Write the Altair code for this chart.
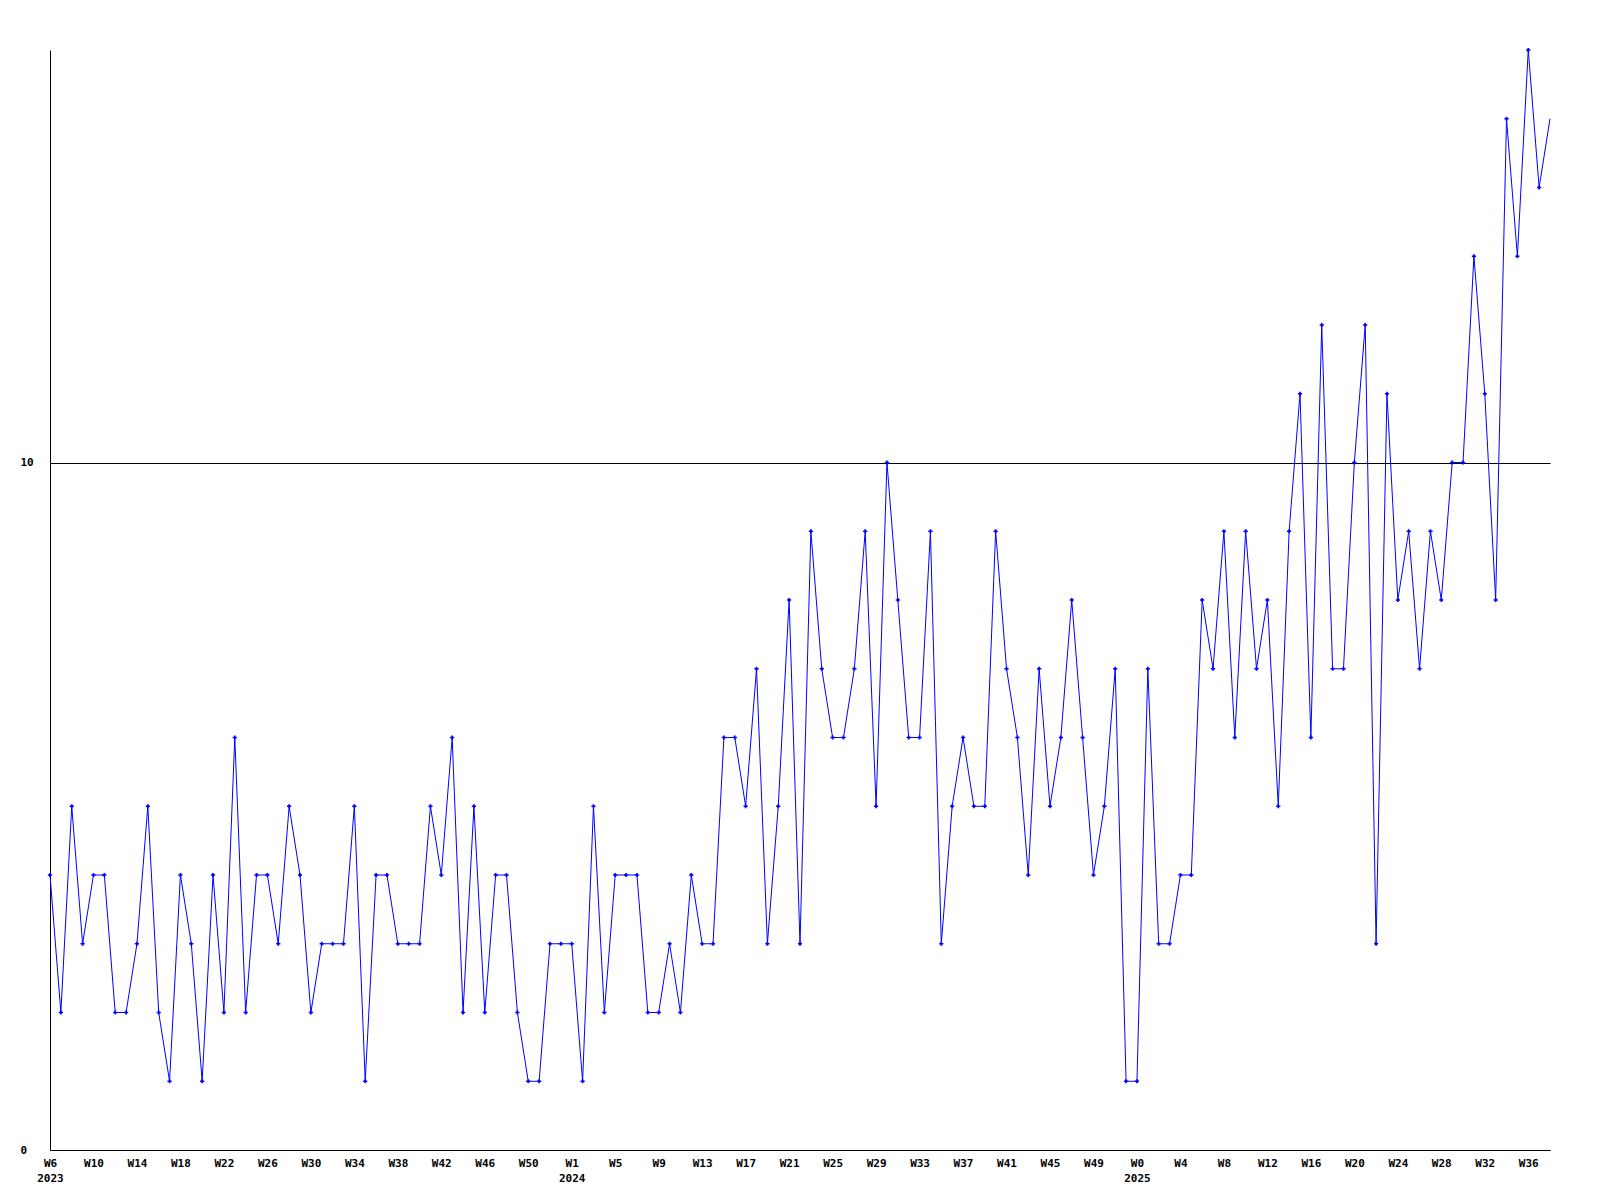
import altair as alt
import pandas as pd

# weekly values, W6 2023 .. W38 2025
values = [
    4, 2, 5, 3, 4, 4, 2, 2, 3, 5, 2, 1, 4, 3, 1, 4, 2, 6, 2, 4, 4,
    3, 5, 4, 2, 3, 3, 3, 5, 1, 4, 4, 3, 3, 3, 5, 4, 6, 2, 5, 2,
    4, 4, 2, 1, 1, 3, 3, 3, 1, 5, 2, 4, 4, 4, 2, 2, 3, 2, 4, 3, 3,
    6, 6, 5, 7, 3, 5, 8, 3, 9, 7, 6, 6, 7, 9, 5, 10, 8, 6, 6, 9, 3,
    5, 6, 5, 5, 9, 7, 6, 4, 7, 5, 6, 8, 6, 4, 5, 7, 1, 1, 7, 3,
    3, 4, 4, 8, 7, 9, 6, 9, 7, 8, 5, 9, 11, 6, 12, 7, 7, 10, 12, 3, 11,
    8, 9, 7, 9, 8, 10, 10, 13, 11, 8, 15, 13, 16, 14, 15,
]

week_labels = (
    ["W6", "W10", "W14", "W18", "W22", "W26", "W30", "W34", "W38", "W42", "W46", "W50"]
    + ["W1", "W5", "W9", "W13", "W17", "W21", "W25", "W29", "W33", "W37", "W41", "W45", "W49"]
    + ["W0", "W4", "W8", "W12", "W16", "W20", "W24", "W28", "W32", "W36"]
)
year_labels = {0: "2023", 12: "2024", 25: "2025"}
tick_step = 4

df = pd.DataFrame({"idx": list(range(len(values))), "value": values})
df["marker"] = df["idx"] < len(values) - 1

tick_values = [i * tick_step for i in range(len(week_labels))]
label_arrays = []
for i, w in enumerate(week_labels):
    y = year_labels.get(i, "")
    label_arrays.append("['%s','%s']" % (w, y))
label_expr = "[" + ",".join(label_arrays) + "][round(datum.value / %d)]" % tick_step

FONT = "DejaVu Sans Mono"
BLUE = "#0000ff"

x = alt.X(
    "idx:Q",
    scale=alt.Scale(domain=[0, len(values) - 1], nice=False, zero=False),
    axis=alt.Axis(
        values=tick_values,
        labelExpr=label_expr,
        title=None,
        ticks=False,
        grid=False,
        domainColor="black",
        domainWidth=1,
        labelFont=FONT,
        labelFontWeight="bold",
        labelFontSize=11,
        labelColor="black",
        labelPadding=7,
        labelBaseline="top",
        labelLineHeight=15,
        labelOverlap=False,
        labelFlush=False,
        labelBound=False,
    ),
)
y = alt.Y(
    "value:Q",
    scale=alt.Scale(domain=[0, 16], nice=False),
    axis=alt.Axis(
        values=[0, 10],
        title=None,
        ticks=False,
        grid=True,
        gridColor="black",
        gridOpacity=1,
        gridWidth=1,
        domainColor="black",
        domainWidth=1,
        labelFont=FONT,
        labelFontWeight="bold",
        labelFontSize=11,
        labelColor="black",
        labelAlign="left",
        labelBaseline="middle",
        labelPadding=30,
        labelFlush=False,
        labelBound=False,
    ),
)

base = alt.Chart(df)
line = base.mark_line(color=BLUE, strokeWidth=1).encode(x=x, y=y)
pts = base.transform_filter("datum.marker").mark_point(
    shape="cross", filled=True, color=BLUE, size=18, opacity=1
).encode(x=x, y=y)

chart = (
    alt.layer(line, pts)
    .properties(
        width=1500,
        height=1100,
        autosize=alt.AutoSizeParams(type="none"),
        padding={"left": 42, "top": 42, "right": 34, "bottom": 38},
        background="white",
    )
    .configure_view(stroke=None)
)

chart.save("out.html", embed_options={"renderer": "svg", "actions": False})
